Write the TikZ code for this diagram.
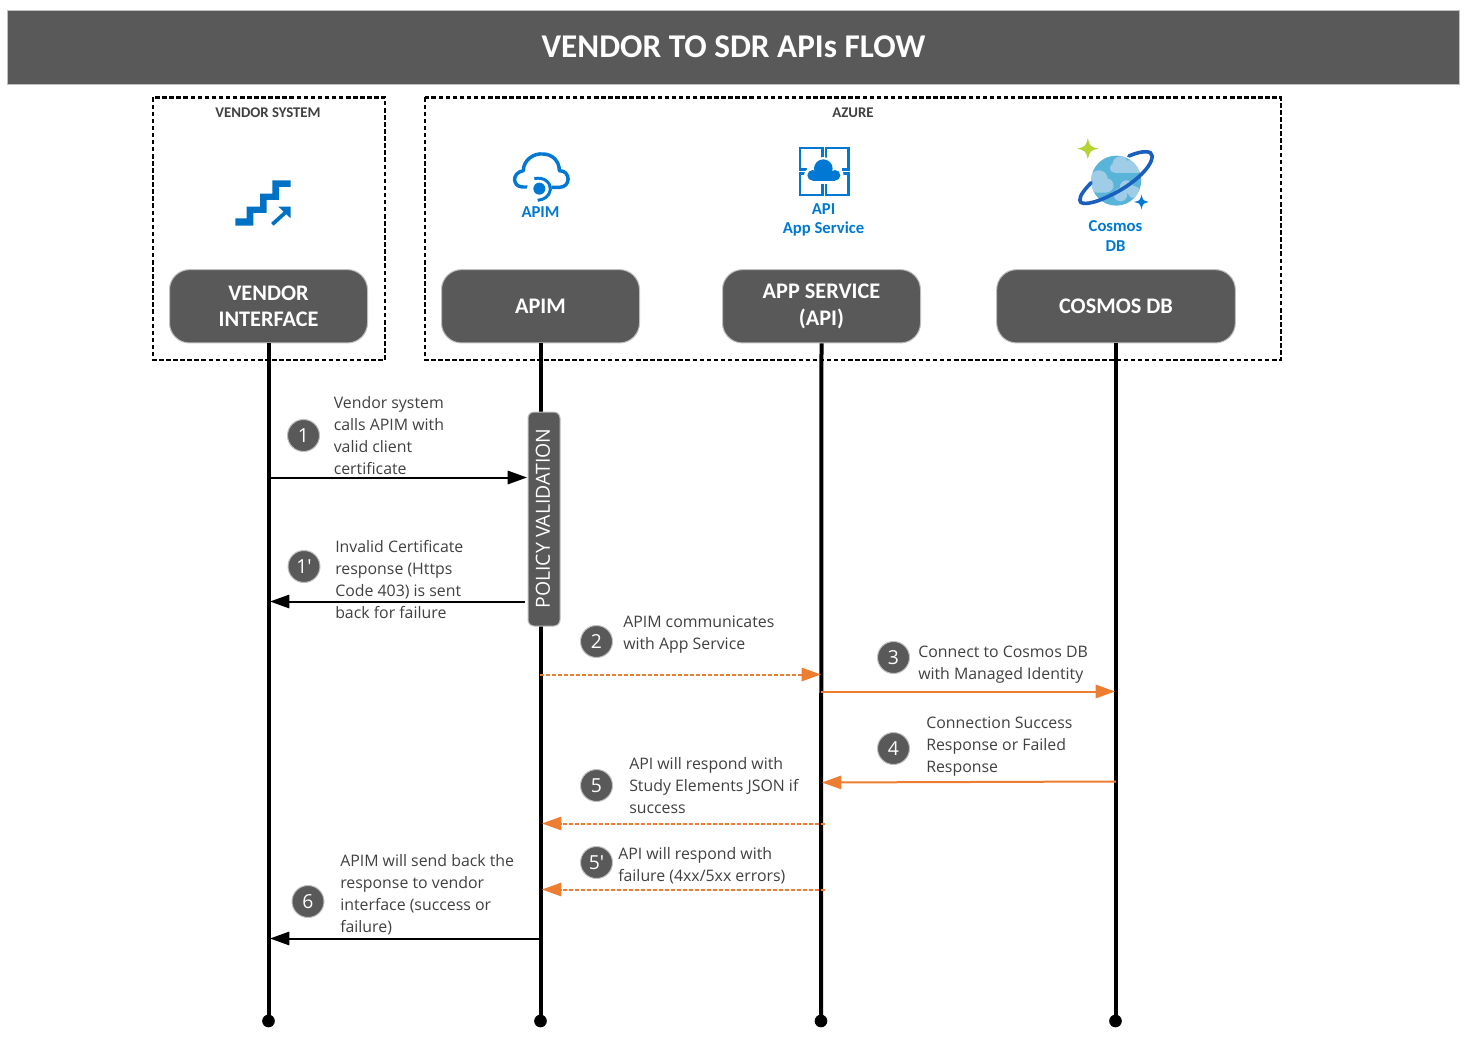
\documentclass[tikz,border=0pt]{standalone}
\usepackage{fontspec}
\setmainfont{Open Sans}[Ligatures=TeXOff]
\newfontfamily\hdrfont{Carlito}[BoldFont=Carlito Bold]
\usetikzlibrary{arrows.meta}
\definecolor{boxgrey}{HTML}{595959}
\definecolor{edgegrey}{HTML}{BFBFBF}
\definecolor{txtgrey}{HTML}{404040}
\definecolor{azblue}{HTML}{0078D4}
\definecolor{stairblue}{HTML}{0072C6}
\definecolor{orangeln}{HTML}{ED7D31}
\definecolor{sph}{HTML}{59B4D9}
\definecolor{cld}{HTML}{9FCDE8}
\definecolor{ringblue}{HTML}{1B5FBE}
\definecolor{greenstar}{HTML}{B4D335}
\newcommand{\fourstar}[4]{\fill[#4] (#1,{#2-#3}) .. controls ({#1+0.2*#3},{#2-0.2*#3}) .. ({#1+#3},#2) .. controls ({#1+0.2*#3},{#2+0.2*#3}) .. (#1,{#2+#3}) .. controls ({#1-0.2*#3},{#2+0.2*#3}) .. ({#1-#3},#2) .. controls ({#1-0.2*#3},{#2-0.2*#3}) .. cycle;}
\tikzset{
  titlebar/.style={fill=boxgrey,draw=edgegrey,line width=0.75pt,minimum width=1089pt,minimum height=55.5pt,inner sep=0pt,text=white,font=\hdrfont\bfseries\fontsize{24.9}{28}\selectfont},
  zone/.style={draw=black,line width=2.2pt,dash pattern=on 3.4pt off 1.9pt},
  zonelabel/.style={text=txtgrey,font=\hdrfont\bfseries\fontsize{11.1}{12}\selectfont,inner sep=0pt},
  hdrbox/.style={fill=boxgrey,draw=edgegrey,line width=0.75pt,rounded corners=15pt,minimum height=55pt,inner sep=0pt,text=white,align=center,font=\hdrfont\bfseries\fontsize{16.7}{20.2}\selectfont},
  iconlabel/.style={text=azblue,align=center,inner sep=0pt,font=\hdrfont\bfseries\fontsize{12.5}{14.4}\selectfont},
  lifeline/.style={draw=black,line width=3pt},
  enddot/.style={circle,fill=black,minimum size=9.5pt,inner sep=0pt},
  numdot/.style={circle,fill=boxgrey,draw=edgegrey,line width=0.75pt,minimum size=24pt,inner sep=0pt,text=white,font=\fontsize{14.5}{16}\selectfont},
  bodytext/.style={anchor=west,align=left,inner sep=0pt,text=txtgrey,font=\fontsize{11.9}{16.5}\selectfont},
  blackflow/.style={draw=black,line width=1.5pt,-{Triangle[length=14.5pt,width=10pt]}},
  orangeflow/.style={draw=orangeln,line width=1.5pt,-{Triangle[length=14.5pt,width=10pt]}},
  orangedash/.style={orangeflow,dash pattern=on 3pt off 1.5pt},
}
\begin{document}
\begin{tikzpicture}[x=0.75pt,y=-0.75pt]
\useasboundingbox (0,0) rectangle (1468,1045);
\node[titlebar] (title) at (733.5,47.5) {\raisebox{1pt}{VENDOR TO SDR APIs FLOW}};

\draw[zone] (153,97.5) rectangle (385,360);
\draw[zone] (425,97.5) rectangle (1281,360);
\node[zonelabel] (vslabel) at (268,112.5) {VENDOR SYSTEM};
\node[zonelabel] (azlabel) at (853,112.5) {AZURE};

% header boxes
\node[hdrbox,minimum width=148.5pt] (vi) at (268.5,306.3) {VENDOR\\INTERFACE};
\node[hdrbox,minimum width=148.5pt] (apim) at (540.5,306.3) {\raisebox{0.6pt}{APIM}};
\node[hdrbox,minimum width=148.5pt] (app) at (821.5,306.3) {APP SERVICE\\(API)};
\node[hdrbox,minimum width=179pt] (cos) at (1116,306.3) {\raisebox{0.6pt}{COSMOS DB}};

% end dots
\node[enddot] (vid) at (268.5,1021) {};
\node[enddot] (apimd) at (540.5,1021) {};
\node[enddot] (appd) at (821,1021) {};
\node[enddot] (cosd) at (1115.5,1021) {};

\draw[lifeline] (vi.south) -- (vid.center);
\draw[lifeline] (apim.south) -- (apimd.center);
\draw[lifeline] (app.south) -- (appd.center);
\draw[lifeline] (cos.south -| cosd) -- (cosd.center);

% policy
\node[fill=boxgrey,draw=edgegrey,line width=0.75pt,rounded corners=4.5pt,minimum width=24pt,minimum height=160.5pt,inner sep=0pt] (policy) at (544,519) {};
\node[rotate=90,text=white,inner sep=0pt,font=\fontsize{14.6}{16}\selectfont] (policyt) at (543,518.5) {POLICY VALIDATION};

% numbered dots
\node[numdot] (n1) at (303.5,435.5) {1};
\node[numdot] (n1p) at (304,566.5) {1'};
\node[numdot] (n2) at (596.5,641.5) {2};
\node[numdot] (n3) at (893.5,657.5) {3};
\node[numdot] (n4) at (893.5,748.5) {4};
\node[numdot] (n5) at (596.5,785.5) {5};
\node[numdot] (n5p) at (596.5,862.5) {5'};
\node[numdot] (n6) at (308,901.5) {6};

% texts
\node[bodytext] (t1) at (333.5,436) {Vendor system\\calls APIM with\\valid client\\certificate};
\node[bodytext] (t1p) at (335,580) {Invalid Certificate\\response (Https\\Code 403) is sent\\back for failure};
\node[bodytext] (t2) at (623,634.5) {APIM communicates\\with App Service};
\node[bodytext] (t3) at (918,664.5) {Connect to Cosmos DB\\with Managed Identity};
\node[bodytext] (t4) at (926,746.5) {Connection Success\\Response or Failed\\Response};
\node[bodytext] (t5) at (629,785.5) {API will respond with\\Study Elements JSON if\\success};
\node[bodytext] (t5p) at (618,865.5) {API will respond with\\failure (4xx/5xx errors)};
\node[bodytext] (t6) at (340,894.5) {APIM will send back the\\response to vendor\\interface (success or\\failure)};

% flow end points
\coordinate (a1s) at (269,477.5); \coordinate (a1e) at (527,477.5);
\coordinate (b1s) at (525,601.5); \coordinate (b1e) at (270,601.5);
\coordinate (a2s) at (540,674.5); \coordinate (a2e) at (821,674.5);
\coordinate (a3s) at (821,691.5); \coordinate (a3e) at (1115,691.5);
\coordinate (a4s) at (1116,781.5); \coordinate (a4e) at (822,782.5);
\coordinate (a5s) at (825,823.5); \coordinate (a5e) at (542,823.5);
\coordinate (b5s) at (825,889.5); \coordinate (b5e) at (542,889.5);
\coordinate (a6s) at (540,938.5); \coordinate (a6e) at (270,938.5);

\draw[blackflow] (a1s) -- (a1e);
\draw[blackflow] (b1s) -- (b1e);
\draw[orangedash] (a2s) -- (a2e);
\draw[orangeflow] (a3s) -- (a3e);
\draw[orangeflow] (a4s) -- (a4e);
\draw[orangedash] (a5s) -- (a5e);
\draw[orangedash] (b5s) -- (b5e);
\draw[blackflow] (a6s) -- (a6e);

% icon labels
\node[iconlabel] (lapim) at (540.5,212) {APIM};
\node[iconlabel] (lapp) at (823.5,220) {API\\App Service};
\node[iconlabel] (lcos) at (1115.5,236) {Cosmos\\DB};

% stair icon
\begin{scope}[shift={(150,90)},x=0.25pt,y=-0.25pt]
\fill[stairblue] (256,385)--(290,385)--(290,350)--(330,350)--(330,311)--(367,311)--(367,271)--(422,271)--(422,291)--(387,291)--(387,330)--(350,330)--(350,369)--(310,369)--(310,407)--(256,407)--cycle;
\draw[stairblue,line width=2.8pt] (367,403)--(410,364);
\fill[stairblue] (385,350)--(422,350)--(422,385)--cycle;
\end{scope}

% APIM icon
\begin{scope}[shift={(506,148)},x=0.25pt,y=-0.25pt]
\draw[azblue,line width=2.6pt,line cap=round,line join=round] (82,117) -- (50,117) .. controls (20,117) and (15,75) .. (52,68) .. controls (52,35) and (85,15) .. (110,18) .. controls (140,18) and (160,40) .. (160,68) .. controls (195,68) and (195,118) .. (160,118) -- (132,118);
\fill[white] (100,122) circle (37);
\fill[azblue] (100,122) circle (18);
\draw[azblue,line width=2.2pt] (85,92) .. controls (115,85) and (135,105) .. (133,125) .. controls (130,145) and (115,155) .. (95,157);
\end{scope}

% API app service icon
\begin{scope}[shift={(790,140)},x=0.25pt,y=-0.25pt]
\begin{scope}[azblue,line width=2.2pt]
\draw (50,88)--(30,88)--(30,24)--(98,24)--(98,60);
\draw (108,60)--(108,24)--(175,24)--(175,88)--(155,88);
\draw (50,100)--(30,100)--(30,165)--(98,165)--(98,130);
\draw (108,130)--(108,165)--(175,165)--(175,100)--(150,100);
\end{scope}
\fill[white] (100,86) circle (35);
\fill[white] (66,107) circle (24);
\fill[white] (137,107) circle (24);
\fill[white] (60,107) rectangle (142,131);
\fill[azblue] (100,86) circle (28);
\fill[azblue] (68,106) circle (16);
\fill[azblue] (135,106) circle (16);
\fill[azblue] (68,100) rectangle (135,122);
\end{scope}

% Cosmos icon
\begin{scope}[shift={(1070.5,132)},x=0.25pt,y=-0.25pt]
\fill[sph] (137,146) circle (75);
\begin{scope}
\clip (137,146) circle (75);
\fill[cld] (150,97) circle (24); \fill[cld] (180,103) circle (19); \fill[cld] (132,108) circle (14); \fill[cld] (132,106) rectangle (205,122);
\fill[cld] (85,142) circle (27); \fill[cld] (108,160) circle (21); \fill[cld,rounded corners=6pt] (55,150) rectangle (128,182);
\fill[cld] (168,165) circle (20); \fill[cld] (150,188) circle (20); \fill[cld] (190,180) circle (18);
\end{scope}
\draw[ringblue,line width=2.7pt,line cap=round] (175,72) .. controls (215,55) and (245,55) .. (245,72) .. controls (245,110) and (175,165) .. (120,190) .. controls (70,215) and (30,222) .. (28,205) .. controls (27,190) and (45,170) .. (62,152);
\fourstar{52}{50}{32}{greenstar}
\fourstar{213}{210}{22}{azblue}
\end{scope}
\end{tikzpicture}
\end{document}
